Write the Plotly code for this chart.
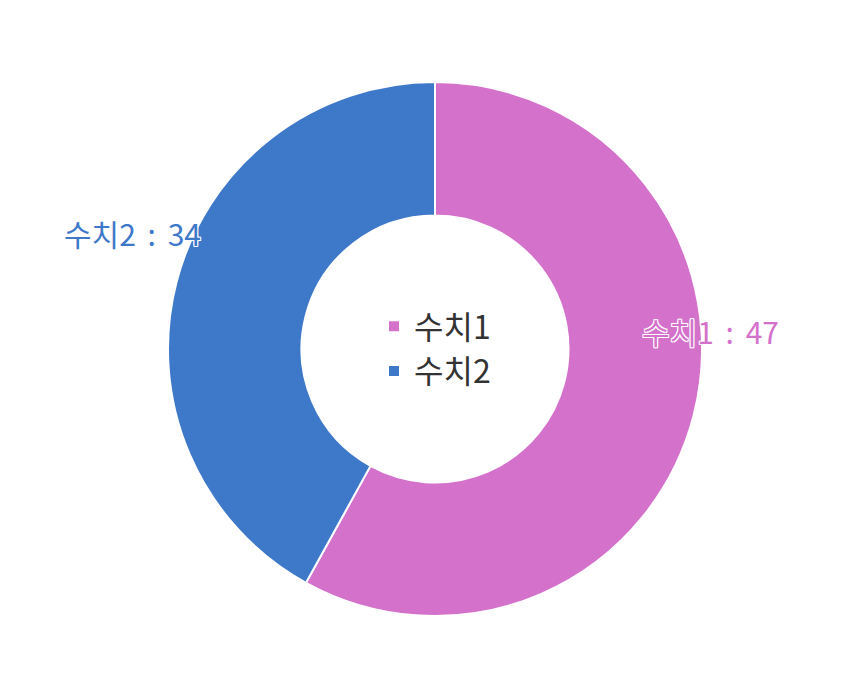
import plotly.graph_objects as go

# data
labels = ["수치1", "수치2"]
values = [47, 34]
colors = ["#d471cb", "#3e78c9"]

FONT = "Noto Sans CJK KR, Noto Sans, sans-serif"
HALO = "-1px -1px 0 #fff, 1px -1px 0 #fff, -1px 1px 0 #fff, 1px 1px 0 #fff, 0 0 2px #fff"

fig = go.Figure()
fig.add_trace(go.Pie(
    labels=labels,
    values=values,
    hole=0.5,
    sort=False,
    direction="clockwise",
    rotation=0,
    marker=dict(colors=colors, line=dict(color="#ffffff", width=2)),
    textinfo="none",
    hoverinfo="label+value+percent",
))

# slice labels ("name : value"), coloured like their slice
label_pos = [(0.747, 0.534), (0.0506, 0.718)]
for (lx, ly), name, val, col in zip(label_pos, labels, values, colors):
    fig.add_annotation(
        x=lx, y=ly, xref="paper", yref="paper",
        xanchor="left", yanchor="middle",
        text=f"{name}\u2006 : \u2006{val}", showarrow=False,
        font=dict(family=FONT, size=30, color=col, shadow=HALO),
    )

# page body adds an 8px offset, so margins are shifted by that amount
fig.update_layout(
    width=851, height=682,
    margin=dict(l=12, r=9, t=74, b=74),
    paper_bgcolor="#ffffff",
    plot_bgcolor="#ffffff",
    showlegend=True,
    legend=dict(
        x=0.5, y=0.5, xanchor="center", yanchor="middle",
        font=dict(family=FONT, size=32, color="#333333"),
        bgcolor="rgba(0,0,0,0)",
    ),
    font=dict(family=FONT),
)

fig.write_html("out.html")
